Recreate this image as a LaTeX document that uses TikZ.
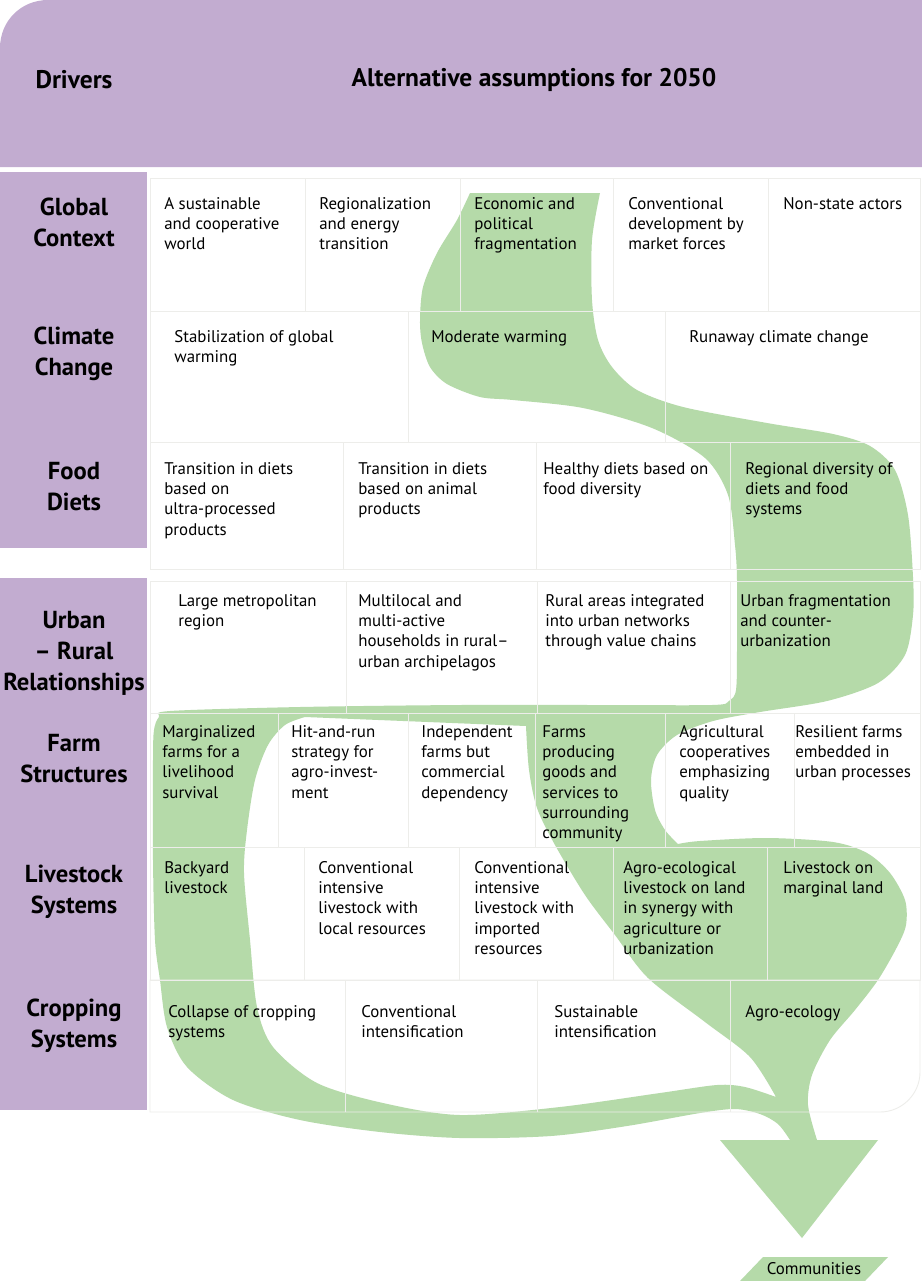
\documentclass[tikz,border=0pt]{standalone}
\usepackage{fontspec}
\setmainfont{PT Sans}
\definecolor{drvpurple}{HTML}{C2ACD0}
\definecolor{flowgreen}{HTML}{B5DAA9}
\definecolor{gridgray}{HTML}{EDEDEA}
\begin{document}
\begin{tikzpicture}[x=.02cm,y=-.02cm,
  cell/.style={anchor=north west,inner sep=0,align=left,font=\fontsize{9.6}{11.55}\selectfont},
  drv/.style={align=center,inner sep=0,font=\fontsize{14}{17.6}\selectfont\bfseries},
  hd/.style={inner sep=0,font=\fontsize{14.5}{17}\selectfont\bfseries},
  cline/.style={draw=gridgray,line width=.5pt}]
  \useasboundingbox (0,0) rectangle (922,1281);
  \fill[white] (0,0) rectangle (922,1281);
  \fill[drvpurple] (0,48) .. controls (0,21) and (21,0) .. (48,0) -- (922,0) -- (922,167) -- (0,167) -- cycle;
  \fill[drvpurple] (0,172) rectangle (147,548);
  \fill[drvpurple] (0,578) rectangle (147,1110);
  % scenario pathway
  \fill[flowgreen,even odd rule] (470,193) -- (600,193)
    -- plot[smooth] coordinates {(600,193) (592,240) (592,300) (598,340) (612,367) (637,390) (683,407) (767,423) (833,434) (870,446) (895,470) (908,515) (913,577) (913,615) (905,655) (878,683) (827,701) (760,712) (713,721) (677,735) (657,755) (651,780) (655,810) (665,830) (678,844)}
    -- plot[smooth] coordinates {(678,844) (700,841) (767,838) (833,842) (867,853) (890,873) (905,900) (906,925) (897,947) (878,980) (855,1010) (830,1040) (812,1075) (808,1105) (817,1140)}
    -- (878,1140) -- (802,1238) -- (720,1140) -- (790,1140)
    -- plot[smooth] coordinates {(790,1140) (778,1124) (760,1114) (735,1109) (700,1113) (627,1126) (551,1136) (460,1138) (380,1132) (300,1120) (233,1100) (187,1067) (167,1027) (160,980) (155,940) (153,860) (153,760) (154,730) (159,717) (170,711) (300,707) (460,705) (600,705) (712,705) (729,701) (736,690) (737,650) (737,580) (735,545) (728,495) (705,458) (652,428) (583,408) (513,400) (480,397) (447,384) (430,367) (422,343) (420,320) (423,287) (437,253) (457,220) (470,193)}
    -- cycle
    (305,717) -- plot[smooth] coordinates {(305,717) (285,725) (268,745) (255,780) (247,830) (244,873) (250,940) (257,1007) (273,1047) (317,1083) (383,1103) (460,1115) (560,1107) (660,1093) (717,1085) (745,1087) (776,1097)}
    -- plot[smooth] coordinates {(776,1097) (750,1057) (705,1022) (648,978) (615,935) (585,895) (555,845) (537,808) (529,770) (526,726)}
    -- cycle;
  \fill[flowgreen] (763,1257) -- (888,1257) -- (865,1281) -- (740,1281) -- cycle;
  % grid
  \draw[cline] (150,178) rectangle (920,311);
  \foreach \x in {305,460,613,768} \draw[cline] (\x,178) -- (\x,311);
  \draw[cline] (150,311) rectangle (920,442);
  \foreach \x in {408,665} \draw[cline] (\x,311) -- (\x,442);
  \draw[cline] (150,442) rectangle (920,569);
  \foreach \x in {343,536,730} \draw[cline] (\x,442) -- (\x,569);
  \draw[cline] (150,581) rectangle (920,713);
  \foreach \x in {346,537,730} \draw[cline] (\x,581) -- (\x,713);
  \draw[cline] (150,713) rectangle (920,847);
  \foreach \x in {278,408,535,665,794} \draw[cline] (\x,713) -- (\x,847);
  \draw[cline] (150,847) rectangle (920,980);
  \foreach \x in {304,459,613,767} \draw[cline] (\x,847) -- (\x,980);
  \draw[cline] (150,980) -- (920,980) -- (920,1072) .. controls (920,1094) and (902,1112) .. (880,1112) -- (150,1112) -- cycle;
  \foreach \x in {345,537,730} \draw[cline] (\x,980) -- (\x,1112);
  % headings
  \node[hd] (drivers) at (74,80) {Drivers};
  \node[hd] (alt) at (534,80) {Alternative assumptions for 2050};
  \node[drv] (gc) at (74,222) {Global\\Context};
  \node[drv] (cc) at (74,354) {Climate\\Change};
  \node[drv] (fd) at (74,487) {Food\\Diets};
  \node[drv] (ur) at (74,653) {Urban\\– Rural\\Relationships};
  \node[drv] (fs) at (74,759) {Farm\\Structures};
  \node[drv] (ls) at (74,892) {Livestock\\Systems};
  \node[drv] (cs) at (74,1026) {Cropping\\Systems};
  % global context
  \node[cell] (gc1) at (164,197) {A sustainable\\and cooperative\\world};
  \node[cell] (gc2) at (319,197) {Regionalization\\and energy\\transition};
  \node[cell] (gc3) at (474,197) {Economic and\\political\\fragmentation};
  \node[cell] (gc4) at (628,197) {Conventional\\development by\\market forces};
  \node[cell] (gc5) at (783,197) {Non-state actors};
  % climate change
  \node[cell] (cc1) at (174,330) {Stabilization of global\\warming};
  \node[cell] (cc2) at (431,330) {Moderate warming};
  \node[cell] (cc3) at (689,330) {Runaway climate change};
  % food diets
  \node[cell] (fd1) at (164,462) {Transition in diets\\based on\\ultra-processed\\products};
  \node[cell] (fd2) at (358,462) {Transition in diets\\based on animal\\products};
  \node[cell] (fd3) at (543,462) {Healthy diets based on\\food diversity};
  \node[cell] (fd4) at (745,462) {Regional diversity of\\diets and food\\systems};
  % urban - rural
  \node[cell] (ur1) at (178,594) {Large metropolitan\\region};
  \node[cell] (ur2) at (358,594) {Multilocal and\\multi-active\\households in rural–\\urban archipelagos};
  \node[cell] (ur3) at (545,594) {Rural areas integrated\\into urban networks\\through value chains};
  \node[cell] (ur4) at (740,594) {Urban fragmentation\\and counter-\\urbanization};
  % farm structures
  \node[cell] (fs1) at (162,725) {Marginalized\\farms for a\\livelihood\\survival};
  \node[cell] (fs2) at (291,725) {Hit-and-run\\strategy for\\agro-invest-\\ment};
  \node[cell] (fs3) at (421,725) {Independent\\farms but\\commercial\\dependency};
  \node[cell] (fs4) at (542,725) {Farms\\producing\\goods and\\services to\\surrounding\\community};
  \node[cell] (fs5) at (679,725) {Agricultural\\cooperatives\\emphasizing\\quality};
  \node[cell] (fs6) at (795,725) {Resilient farms\\embedded in\\urban processes};
  % livestock
  \node[cell] (ls1) at (164,861) {Backyard\\livestock};
  \node[cell] (ls2) at (318,861) {Conventional\\intensive\\livestock with\\local resources};
  \node[cell] (ls3) at (474,861) {Conventional\\intensive\\livestock with\\imported\\resources};
  \node[cell] (ls4) at (623,861) {Agro-ecological\\livestock on land\\in synergy with\\agriculture or\\urbanization};
  \node[cell] (ls5) at (783,861) {Livestock on\\marginal land};
  % cropping
  \node[cell] (cs1) at (168,1005) {Collapse of cropping\\systems};
  \node[cell] (cs2) at (361,1005) {Conventional\\intensification};
  \node[cell] (cs3) at (554,1005) {Sustainable\\intensification};
  \node[cell] (cs4) at (745,1005) {Agro-ecology};
  \node[inner sep=0,font=\fontsize{9.6}{11.55}\selectfont] (comm) at (814,1269) {Communities};
\end{tikzpicture}
\end{document}
